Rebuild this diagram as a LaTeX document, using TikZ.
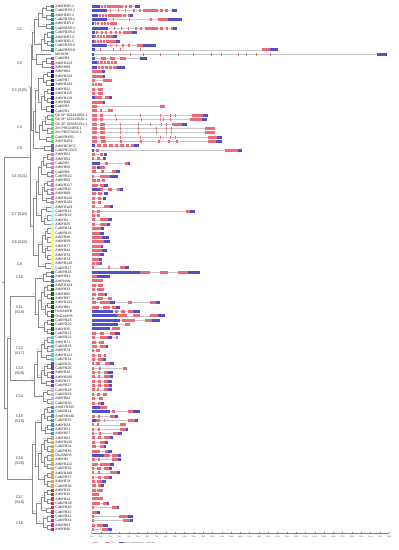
\documentclass[tikz,border=0pt]{standalone}
\usepackage{fontspec}
\setmainfont{Liberation Sans}
\definecolor{R}{RGB}{236,106,118}
\definecolor{U}{RGB}{80,80,205}
\definecolor{cA}{RGB}{38,140,140}
\definecolor{cW}{RGB}{255,255,255}
\definecolor{cB}{RGB}{224,32,224}
\definecolor{cC}{RGB}{20,20,200}
\definecolor{cD}{RGB}{60,240,60}
\definecolor{cE}{RGB}{100,100,210}
\definecolor{cF}{RGB}{230,110,200}
\definecolor{cG}{RGB}{150,250,250}
\definecolor{cH}{RGB}{250,250,60}
\definecolor{cI}{RGB}{205,250,160}
\definecolor{cJ}{RGB}{50,100,210}
\definecolor{cK}{RGB}{20,100,20}
\definecolor{cL}{RGB}{60,210,200}
\definecolor{cM}{RGB}{120,50,220}
\definecolor{cN}{RGB}{205,175,240}
\definecolor{cO}{RGB}{50,150,220}
\definecolor{cP}{RGB}{240,160,60}
\definecolor{cQ}{RGB}{230,40,60}
\definecolor{cS}{RGB}{240,20,140}
\tikzset{
 tree/.style={draw=black!45, line width=0.35pt},
 boot/.style={font=\fontsize{1.8}{2}\selectfont, text=black!55, inner sep=0.2pt, anchor=south east},
 sq/.style={draw=none, minimum size=3.4pt, inner sep=0pt},
 lbl/.style={font=\fontsize{3.5}{4}\selectfont, text=black!85, inner sep=0pt, anchor=west},
 cls/.style={font=\fontsize{3.8}{5}\selectfont, text=black!80, align=center, inner sep=0pt},
 intron/.style={draw=black!22, line width=0.6pt},
 axisl/.style={draw=black!50, line width=0.4pt},
 tickl/.style={font=\fontsize{2.1}{2.5}\selectfont, text=black!60, inner sep=0pt},
 leg/.style={font=\fontsize{2}{2.4}\selectfont, text=black!60, inner sep=0pt, anchor=west},
}
\newcommand\gs[3]{%
 \pgfmathsetmacro\yy{6.3+4.36*#1}%
 \draw[intron] (92,\yy) -- (#2,\yy);%
 \foreach \cc/\aa/\bb in {#3}{\fill[\cc] (\aa,\yy-1.5) rectangle (\bb,\yy+1.5);}%
}
\newcommand\jn[6]{%
 \pgfmathsetmacro\ya{6.3+4.36*#2}\pgfmathsetmacro\yb{6.3+4.36*#3}%
 \draw[tree] (#4,\ya) -- (#1,\ya) -- (#1,\yb) -- (#5,\yb);%
 \node[boot] at (#1-0.2,{(\ya+\yb)/2}) {#6};%
}
\begin{document}
\begin{tikzpicture}[x=1pt,y=-1pt]
\useasboundingbox (0,0) rectangle (399,550);
\fill[white] (0,0) rectangle (399,550);
% ---------- tree ----------
% C1
\jn{46}{0}{1}{50.5}{50.5}{100}
\jn{46}{2}{3}{50.5}{50.5}{100}
\jn{42}{0.5}{2.5}{46}{46}{99}
\jn{46}{4}{5}{50.5}{50.5}{98}
\jn{38}{1.5}{4.5}{42}{46}{87}
\jn{47}{6}{7}{50.5}{50.5}{100}
\jn{47}{8}{9}{50.5}{50.5}{95}
\jn{44}{6.5}{8.5}{47}{47}{76}
\jn{41}{7.5}{10}{44}{50.5}{64}
\jn{34}{3}{8.75}{38}{41}{100}
% C2
\jn{46}{12}{13}{50.5}{50.5}{100}
\jn{42}{12.5}{14}{46}{50.5}{92}
\jn{36}{11}{13.25}{50.5}{42}{58}
\jn{32}{5.875}{12.125}{34}{36}{45}
% C3
\jn{47}{15}{16}{50.5}{50.5}{100}
\jn{46}{17}{18}{50.5}{50.5}{96}
\jn{43}{15.5}{17.5}{47}{46}{71}
\jn{47}{19}{20}{50.5}{50.5}{100}
\jn{47}{21}{22}{50.5}{50.5}{89}
\jn{44}{19.5}{21.5}{47}{47}{63}
\jn{46}{23}{24}{50.5}{50.5}{99}
\jn{41}{20.5}{23.5}{44}{46}{52}
\jn{38}{16.5}{22}{43}{41}{100}
% C4
\jn{47}{25}{26}{50.5}{50.5}{100}
\jn{45}{25.5}{27}{47}{50.5}{100}
\jn{47}{28}{29}{50.5}{50.5}{100}
\jn{42}{26.25}{28.5}{45}{47}{98}
\jn{46}{30}{31}{50.5}{50.5}{100}
\jn{39}{27.375}{30.5}{42}{46}{100}
\jn{35}{19.25}{28.9375}{38}{39}{81}
% C5
\jn{44}{32}{33}{50.5}{50.5}{100}
\jn{33}{24.09375}{32.5}{35}{44}{66}
\jn{31}{9}{28.296875}{32}{33}{54}
% C6
\jn{47}{34}{35}{50.5}{50.5}{100}
\jn{46}{36}{37}{50.5}{50.5}{93}
\jn{43}{34.5}{36.5}{47}{46}{71}
\jn{47}{38}{39}{50.5}{50.5}{100}
\jn{41}{35.5}{38.5}{43}{47}{56}
\jn{47}{40}{41}{50.5}{50.5}{99}
\jn{47}{42}{43}{50.5}{50.5}{100}
\jn{44}{40.5}{42.5}{47}{47}{82}
\jn{46}{44}{45}{50.5}{50.5}{97}
\jn{42}{41.5}{44.5}{44}{46}{61}
\jn{38}{37}{43}{41}{42}{100}
% C7
\jn{46}{46}{47}{50.5}{50.5}{100}
\jn{47}{48}{49}{50.5}{50.5}{98}
\jn{44}{48.5}{50}{47}{50.5}{87}
\jn{41}{46.5}{49.25}{46}{44}{100}
\jn{36}{40}{47.875}{38}{41}{74}
% C8
\jn{47}{51}{52}{50.5}{50.5}{100}
\jn{47}{53}{54}{50.5}{50.5}{99}
\jn{45}{51.5}{53.5}{47}{47}{84}
\jn{47}{55}{56}{50.5}{50.5}{100}
\jn{47}{57}{58}{50.5}{50.5}{96}
\jn{45}{55.5}{57.5}{47}{47}{77}
\jn{42}{52.5}{56.5}{45}{45}{100}
% C9
\jn{45}{59}{60}{50.5}{50.5}{100}
\jn{38}{54.5}{59.5}{42}{45}{68}
\jn{33}{43.9375}{57}{36}{38}{59}
\jn{30}{18.6484}{50.46875}{31}{33}{43}
% C10
\jn{46}{61}{62}{50.5}{50.5}{100}
\jn{43}{61.5}{63}{46}{50.5}{100}
% C11
\jn{47}{64}{65}{50.5}{50.5}{100}
\jn{47}{66}{67}{50.5}{50.5}{99}
\jn{44}{64.5}{66.5}{47}{47}{85}
\jn{47}{68}{69}{50.5}{50.5}{100}
\jn{47}{70}{71}{50.5}{50.5}{100}
\jn{45}{68.5}{70.5}{47}{47}{92}
\jn{41}{65.5}{69.5}{44}{45}{73}
\jn{47}{72}{73}{50.5}{50.5}{98}
\jn{47}{74}{75}{50.5}{50.5}{100}
\jn{44}{72.5}{74.5}{47}{47}{66}
\jn{38}{67.5}{73.5}{41}{44}{100}
\jn{35}{62.25}{70.5}{43}{38}{57}
% C12
\jn{47}{76}{77}{50.5}{50.5}{100}
\jn{47}{78}{79}{50.5}{50.5}{97}
\jn{44}{76.5}{78.5}{47}{47}{80}
\jn{46}{80}{81}{50.5}{50.5}{100}
\jn{41}{77.5}{80.5}{44}{46}{100}
% C13
\jn{47}{82}{83}{50.5}{50.5}{99}
\jn{47}{84}{85}{50.5}{50.5}{100}
\jn{44}{82.5}{84.5}{47}{47}{88}
\jn{46}{86}{87}{50.5}{50.5}{100}
\jn{41}{83.5}{86.5}{44}{46}{100}
\jn{37}{79}{85}{41}{41}{62}
% C14
\jn{47}{88}{89}{50.5}{50.5}{100}
\jn{47}{90}{91}{50.5}{50.5}{94}
\jn{43}{88.5}{90.5}{47}{47}{100}
\jn{34}{82}{89.5}{37}{43}{48}
\jn{10}{66.375}{85.75}{35}{34}{39}
% C15
\jn{47}{92}{93}{50.5}{50.5}{100}
\jn{47}{94}{95}{50.5}{50.5}{98}
\jn{44}{92.5}{94.5}{47}{47}{75}
\jn{47}{96}{97}{50.5}{50.5}{100}
\jn{45}{96.5}{98}{47}{50.5}{91}
\jn{41}{93.5}{97.25}{44}{45}{100}
% C16
\jn{47}{99}{100}{50.5}{50.5}{100}
\jn{47}{101}{102}{50.5}{50.5}{96}
\jn{44}{99.5}{101.5}{47}{47}{70}
\jn{47}{103}{104}{50.5}{50.5}{100}
\jn{47}{105}{106}{50.5}{50.5}{99}
\jn{44}{103.5}{105.5}{47}{47}{83}
\jn{41}{100.5}{104.5}{44}{44}{61}
\jn{47}{107}{108}{50.5}{50.5}{100}
\jn{47}{109}{110}{50.5}{50.5}{97}
\jn{44}{107.5}{109.5}{47}{47}{79}
\jn{38}{102.5}{108.5}{41}{44}{100}
\jn{35}{95.375}{105.5}{41}{38}{52}
% C17
\jn{47}{111}{112}{50.5}{50.5}{100}
\jn{47}{113}{114}{50.5}{50.5}{95}
\jn{44}{111.5}{113.5}{47}{47}{68}
\jn{46}{115}{116}{50.5}{50.5}{100}
\jn{41}{112.5}{115.5}{44}{46}{100}
% C18
\jn{47}{117}{118}{50.5}{50.5}{100}
\jn{47}{119}{120}{50.5}{50.5}{100}
\jn{43}{117.5}{119.5}{47}{47}{100}
\jn{36}{114}{118.5}{41}{43}{86}
\jn{32}{100.4375}{116.25}{35}{36}{57}
\jn{7}{76.0625}{108.34375}{10}{32}{41}
\jn{4}{34.5586}{92.2031}{30}{7}{}
\draw[tree] (2,{6.3+4.36*63.381}) -- (4,{6.3+4.36*63.381});
% ---------- class labels ----------
\node[cls] (k1) at (19.5,29) {C1};
\node[cls] (k2) at (19.5,63) {C2};
\node[cls] (k3) at (19.5,91) {C3 (S25)};
\node[cls] (k4) at (19.5,127) {C4};
\node[cls] (k5) at (19.5,148) {C5};
\node[cls] (k6) at (19.5,177) {C6 (S21)};
\node[cls] (k7) at (19.5,215) {C7 (S20)};
\node[cls] (k8) at (19.5,243) {C8 (S22)};
\node[cls] (k9) at (19.5,264) {C9};
\node[cls] (k10) at (19.5,277) {C10};
\node[cls] (k11) at (19.5,310) {C11\\(S18)};
\node[cls] (k12) at (19.5,351) {C12\\(S17)};
\node[cls] (k13) at (19.5,371) {C13\\(S09)};
\node[cls] (k14) at (19.5,396) {C14};
\node[cls] (k15) at (19.5,419) {C15\\(S19)};
\node[cls] (k16) at (19.5,461) {C16\\(S20)};
\node[cls] (k17) at (19.5,500) {C17\\(S16)};
\node[cls] (k18) at (19.5,523) {C18};
% ---------- squares and gene names ----------
\foreach \nm/\cl [count=\i from 0] in {
AtMYB3R-1/cA,CaMYB3R-1/cA,AtMYB3R-4/cA,CaMYB3R-2/cA,AtMYB3R-2/cA,CaMYB3R-4/cA,CaMYB3R-3/cA,AtMYB3R-3/cA,AtMYB3R-5/cA,CaMYB3R-5/cA,CaMYB3R-6/cA,
MtcMYB/cW,
CaMYB4/cB,AtMYB124/cB,AtMYB88/cB,
AtMYB64/cC,AtMYB119/cC,CaMYB7/cC,AtMYB100/cC,AtMYB22/cC,AtMYB115/cC,AtMYB118/cC,AtMYB98/cC,CaMYB3/cC,CaMYB1/cC,
Gh XP 006341008.1/cD,Gh XP 012218528.1/cD,Gh XP 016682191.1/cD,Zm PHO24850.1/cD,Zm PHO74342.1/cD,CaMYB4R1/cD,AtMYB4R1/cD,
AtMYBCDC5/cE,CaMYBCDC5/cE,
AtMYB54/cF,AtMYB52/cF,CaMYB5/cF,AtMYB50/cF,CaMYB9/cF,CaMYB10/cF,AtMYB55/cF,AtMYB117/cF,CaMYB11/cF,AtMYB69/cF,AtMYB116/cF,AtMYB105/cF,
AtMYB109/cG,CaMYB12/cG,CaMYB13/cG,AtMYB1/cG,AtMYB25/cG,
CaMYB14/cH,CaMYB15/cH,AtMYB48/cH,AtMYB59/cH,AtMYB77/cH,AtMYB44/cH,AtMYB70/cH,AtMYB73/cH,
AtMYB120/cI,CaMYB17/cI,
CaMYB16/cJ,AtMYB91/cJ,AmPHAN/cJ,
AtMYB104/cK,AtMYB33/cK,AtMYB65/cK,AtMYB97/cK,AtMYB101/cK,AtMYB81/cK,HvGAMYB/cK,OsGAMYB/cK,CaMYB19/cK,CaMYB20/cK,AtMYB35/cK,CaMYB21/cK,
CaMYB22/cL,AtMYB71/cL,CaMYB23/cL,AtMYB79/cL,AtMYB121/cL,CaMYB24/cL,
CaMYB25/cM,CaMYB26/cM,AtMYB16/cM,AtMYB106/cM,AtMYB17/cM,CaMYB27/cM,
CaMYB28/cN,CaMYB29/cN,AtMYB84/cN,CaMYB30/cN,
AmMYB305/cO,CaMYB31/cO,AmMYB340/cO,CaMYB32/cO,AtMYB24/cO,AtMYB21/cO,AtMYB57/cO,
AtMYB62/cP,AtMYB116/cP,CaMYB34/cP,CaMYB35/cP,OsJAMYB/cP,AtMYB2/cP,AtMYB112/cP,CaMYB36/cP,AtMYB108/cP,CaMYB37/cP,AtMYB78/cP,CaMYB38/cP,
AtMYB13/cQ,AtMYB15/cQ,AtMYB14/cQ,CaMYB39/cQ,CaMYB40/cQ,CaMYB41/cQ,
CaMYB42/cS,CaMYB43/cS,AtMYB83/cS,AtMYB46/cS}{
 \pgfmathsetmacro\yy{6.3+4.36*\i}
 \node[sq,fill=\cl] (sq\i) at (52.3,\yy) {};
 \node[lbl] (g\i) at (55.3,\yy) {\nm};
}
% ---------- gene structures ----------
\gs{0}{140}{U/92/100,R/101/103,R/104/106,R/107/109.5,R/110/123,R/125/127,R/129/132,U/135/140}
\gs{1}{176.5}{U/92/106.5,R/110/111,R/118/119,R/125/126,R/133/135,R/139/141,R/143/158,R/160/163,R/165/168,U/171.5/176.5}
\gs{2}{133}{U/92/98,R/99/101,R/102/104,R/105/107,R/108/121.5,R/123/126,R/128/130,U/130/133}
\gs{3}{181.5}{U/92/106.5,R/113/114,R/129/130,R/150/152,R/158/168,U/168/181.5}
\gs{4}{116.5}{U/92/94,R/94.5/96,R/97/99,R/101/103,R/104/106,R/107/109,R/110/116.5}
\gs{5}{177}{U/92/108,R/114/115,R/121/122,R/128/129,R/135/137,R/140/142,R/145/158,R/160/163,R/166/168,R/171/173,U/173/177}
\gs{6}{137}{U/92/95,R/96/98,R/101/103,R/105/107,R/110/112,R/115/117,R/119/121,R/122.7/131.7,U/131.7/137}
\gs{7}{117}{U/92/93.5,R/94/95.5,R/97/98.5,R/100/101.5,R/103/104.5,R/106/113,U/113/117}
\gs{8}{120}{U/92/93.5,R/94/95.5,R/97/98.5,R/100/101.5,R/103/104.5,R/106/116,U/116/120}
\gs{9}{156}{U/92/106.5,R/110/111,R/116/117,R/122/124,R/128/130,R/136.7/143.3,U/143.3/156}
\gs{10}{277.5}{U/92/95,R/100/101,R/113/114,R/120/121,R/140/141,R/261.7/270,U/270/277.5}
\gs{11}{386.7}{U/92/94,R/130/131,R/143/144,R/160/161,R/178/179,R/193/194,R/211/212,R/221/222,R/238/239,R/246/247,R/256/257,R/270/271,U/376.7/386.7}
\gs{12}{146.7}{U/92/95,R/101/106,R/110/115,R/120/126,U/140/146.7}
\gs{13}{116.5}{U/92/96.5,R/97/99,R/100/102.5,R/103.5/106,R/107/110,R/111/113,R/114/116.5}
\gs{14}{125}{U/92/96.5,R/98/100,R/101/104,R/105/108,R/109/112,R/113/116.5,U/116.5/125}
\gs{15}{105}{R/92/101.7,U/101.7/105}
\gs{16}{105}{R/92/103,U/103/105}
\gs{17}{111.7}{R/92/95,R/103/111.7}
\gs{18}{101.7}{R/92/93.5,R/95/96.5,R/98/101.7}
\gs{19}{102.7}{R/92/95,R/98.3/102.7}
\gs{20}{102.7}{R/92/95,R/98.3/102.7}
\gs{21}{111.7}{U/92/95,R/95/101.7,R/105/108.5,U/108.5/111.7}
\gs{22}{105}{R/92/103.3,U/103.3/105}
\gs{23}{165}{R/92/96.7,R/160/165}
\gs{24}{113.3}{R/92/96.7,R/100/101.7,R/108.3/113.3}
\gs{25}{208.3}{R/92/96.7,R/100/103.3,R/115/116,R/140/141,R/160/161,R/170/171,R/175/176,R/191.7/203.3,U/203.3/208.3}
\gs{26}{206.7}{R/92/96.7,R/100/103.3,R/116/117,R/141/142,R/160/161,R/163/164,R/170/171,R/190/201.7,U/201.7/206.7}
\gs{27}{186.7}{R/92/96.7,R/100/105,R/120/121,R/138/139,R/150/151,R/161/162,R/166/167,R/171.7/181.7,U/181.7/186.7}
\gs{28}{215}{R/92/96.7,R/100/105,R/120/121,R/138/139,R/156/157,R/166/167,R/171/172,R/205/215}
\gs{29}{215}{R/92/96.7,R/100/105,R/120/121,R/138/139,R/156/157,R/166/167,R/171/172,R/205/215}
\gs{30}{221.7}{R/92/96.7,R/100/105,R/120/121,R/140/141,R/160/161,R/170/171,R/175/176,R/208.3/216.7,U/216.7/221.7}
\gs{31}{222}{R/92/97,R/101/106,R/120/121.5,R/140/141.5,R/158/159.5,R/168/169.5,R/176/177.5,R/208/216,U/216/222}
\gs{32}{139}{U/92/95,R/97/101,R/103/107,R/109/113,R/115/118,R/120/124,R/126/129,R/131/134,U/134/139}
\gs{33}{242}{U/92/94,R/96/99,R/225/238,U/238/242}
\gs{34}{107}{R/92/95,R/100/103,U/104/107}
\gs{35}{106}{R/92/94,R/97/100,U/103/106}
\gs{36}{130}{U/92/100,R/105/108,R/125/128,U/128/130}
\gs{37}{105}{R/92/96,U/97/100,R/100/105}
\gs{38}{120}{R/92/96,R/101/104,R/112/116,U/116/120}
\gs{39}{118}{R/92/94,R/100/110,U/110/118}
\gs{40}{105}{R/92/96,R/97/100,R/102/105}
\gs{41}{108}{R/92/98,R/100/104,U/104/108}
\gs{42}{123}{U/92/100,R/100/103,R/108/112,R/117/120,U/120/123}
\gs{43}{108}{R/92/96,R/98/102,U/104/108}
\gs{44}{106}{R/92/95,R/98/101,U/103/106}
\gs{45}{101}{R/92/95,R/98/101}
\gs{46}{113}{R/92/95,R/104/110,U/110/113}
\gs{47}{195}{R/92/94,R/97/100,R/186/190,U/190/195}
\gs{48}{100}{R/92/95,R/97/100}
\gs{49}{112}{R/92/95,R/100/108,U/108/112}
\gs{50}{110}{R/92/95,R/100/107,U/107/110}
\gs{51}{104}{R/92/101,U/101/104}
\gs{52}{104}{R/92/100,U/100/104}
\gs{53}{109}{R/92/102,U/102/109}
\gs{54}{110}{R/92/104,U/104/110}
\gs{55}{103}{R/92/101,U/101/103}
\gs{56}{107}{R/92/102,U/102/107}
\gs{57}{104}{R/92/100,U/100/104}
\gs{58}{102}{R/92/99,U/99/102}
\gs{59}{102}{R/92/95,R/96/100,U/100/102}
\gs{60}{129}{R/92/94,R/108/110,R/120/125,U/125/129}
\gs{61}{200}{U/92/140,R/140/150,R/160/168,R/178/188,U/188/200}
\gs{62}{110}{R/92/97,U/97/110}
\gs{63}{103}{R/92/103}
\gs{64}{103}{R/92/96,R/98/103}
\gs{65}{104}{R/92/95,R/97/104}
\gs{66}{107}{R/92/96,R/98/105,U/105/107}
\gs{67}{112}{R/92/94,R/97/103,R/108/112}
\gs{68}{160}{R/92/96,R/100/110,U/110/115,R/128/132,R/150/156,U/156/160}
\gs{69}{120}{R/92/99,R/103/110,R/112/116,U/116/120}
\gs{70}{140}{U/92/113,R/115/118,R/121/125,R/128/133,U/133/140}
\gs{71}{165}{U/92/117,R/117/127,R/133/140,R/150/158,U/158/165}
\gs{72}{160}{U/92/120,R/122/135,R/145/152,U/152/160}
\gs{73}{130}{U/92/118,R/125/130}
\gs{74}{120}{U/92/110,R/112/120}
\gs{75}{120}{R/92/96,R/100/104,R/110/115,U/115/120}
\gs{76}{118}{R/92/95,R/100/108,U/108/112,R/116/118}
\gs{77}{104}{R/92/96,R/99/104}
\gs{78}{108}{R/92/97,R/100/106,U/106/108}
\gs{79}{100}{R/92/94,R/96/100}
\gs{80}{106}{R/92/95,R/98/101,R/104/106}
\gs{81}{106}{R/92/95,R/98/103,U/103/106}
\gs{82}{114}{R/92/94,R/96/100,R/105/110,U/110/114}
\gs{83}{127}{R/92/94,R/99/100.5,R/123/127}
\gs{84}{113}{R/92/95,R/98/100,R/104/108,U/108/113}
\gs{85}{113}{R/92/95,R/98/100,R/104/110,U/110/113}
\gs{86}{112}{R/92/95,R/98/101,R/104/108,U/108/112}
\gs{87}{112}{R/92/95,R/98/101,R/104/109,U/109/112}
\gs{88}{112}{R/92/95,R/97/99,R/104/108,U/108/112}
\gs{89}{107}{R/92/94,R/97/100,R/103/107}
\gs{90}{103}{R/92/95,R/99/103}
\gs{91}{104}{R/92/95,R/98/101,U/101/104}
\gs{92}{107}{U/92/100,R/100/107}
\gs{93}{140}{U/92/110,R/112/115,R/128/133,U/133/140}
\gs{94}{118}{R/92/95,R/98/100,R/110/115,U/115/118}
\gs{95}{138}{U/92/96,R/96/100,R/104/105,R/128/135,U/135/138}
\gs{96}{126}{R/92/94,R/97/99,R/120/126}
\gs{97}{128}{R/92/94,R/98/100,R/120/126,U/126/128}
\gs{98}{122}{R/92/94,R/99/101,R/113/118,U/118/122}
\gs{99}{113}{R/92/95,R/98/101,R/104/110,U/110/113}
\gs{100}{108}{R/92/95,R/100/105,U/105/108}
\gs{101}{106}{R/92/96,R/100/104,U/104/106}
\gs{102}{112}{R/92/100,R/105/108,U/108/112}
\gs{103}{121}{U/92/104,R/104/110,R/112/118,U/118/121}
\gs{104}{121}{R/92/95,R/98/100,R/112/118,U/118/121}
\gs{105}{114}{R/92/98,R/100/110,U/110/114}
\gs{106}{112}{R/92/94,R/97/101,R/104/109,U/109/112}
\gs{107}{120}{R/92/94,R/98/100,R/110/117,U/117/120}
\gs{108}{112}{R/92/94,R/98/101,R/104/109,U/109/112}
\gs{109}{106}{R/92/95,R/97/102,U/102/106}
\gs{110}{104}{R/92/96,R/98/101,U/101/104}
\gs{111}{103}{R/92/96,R/97/103}
\gs{112}{99}{R/92/99}
\gs{113}{103}{R/92/103}
\gs{114}{109}{R/92/100,R/103/107,U/107/109}
\gs{115}{119}{R/92/94,R/112/117,U/117/119}
\gs{116}{100}{R/92/97,U/97/100}
\gs{117}{133}{R/92/94,R/119/128,U/128/133}
\gs{118}{133}{R/92/94,R/123/130,U/130/133}
\gs{119}{108}{R/92/95,R/97/103,U/103/108}
\gs{120}{112}{R/92/94,R/102/108,U/108/112}
% ---------- axis ----------
\coordinate (ax0) at (91.5,533);
\coordinate (ax1) at (389.1,533);
\draw[axisl] (ax0) -- (ax1);
\foreach \k in {0,...,32}{
 \draw[axisl] ({91.5+9.3*\k},533) -- ++(0,-1.5);
 \node[tickl] (t\k) at ({91.5+9.3*\k},536.5) {\k kb};
}
% ---------- legend ----------
\node[leg] (lg) at (91.5,542.5) {Legend:};
\fill[R] (104.5,541.7) rectangle (109,543.3);
\node[leg] (lc) at (110,542.5) {CDS};
\fill[U] (118.5,541.7) rectangle (123.5,543.3);
\node[leg] (lu) at (124.5,542.5) {upstream/downstream};
\draw[intron] (145.5,542.5) -- (150,542.5);
\node[leg] (li) at (150.5,542.5) {Intron};
\end{tikzpicture}
\end{document}
